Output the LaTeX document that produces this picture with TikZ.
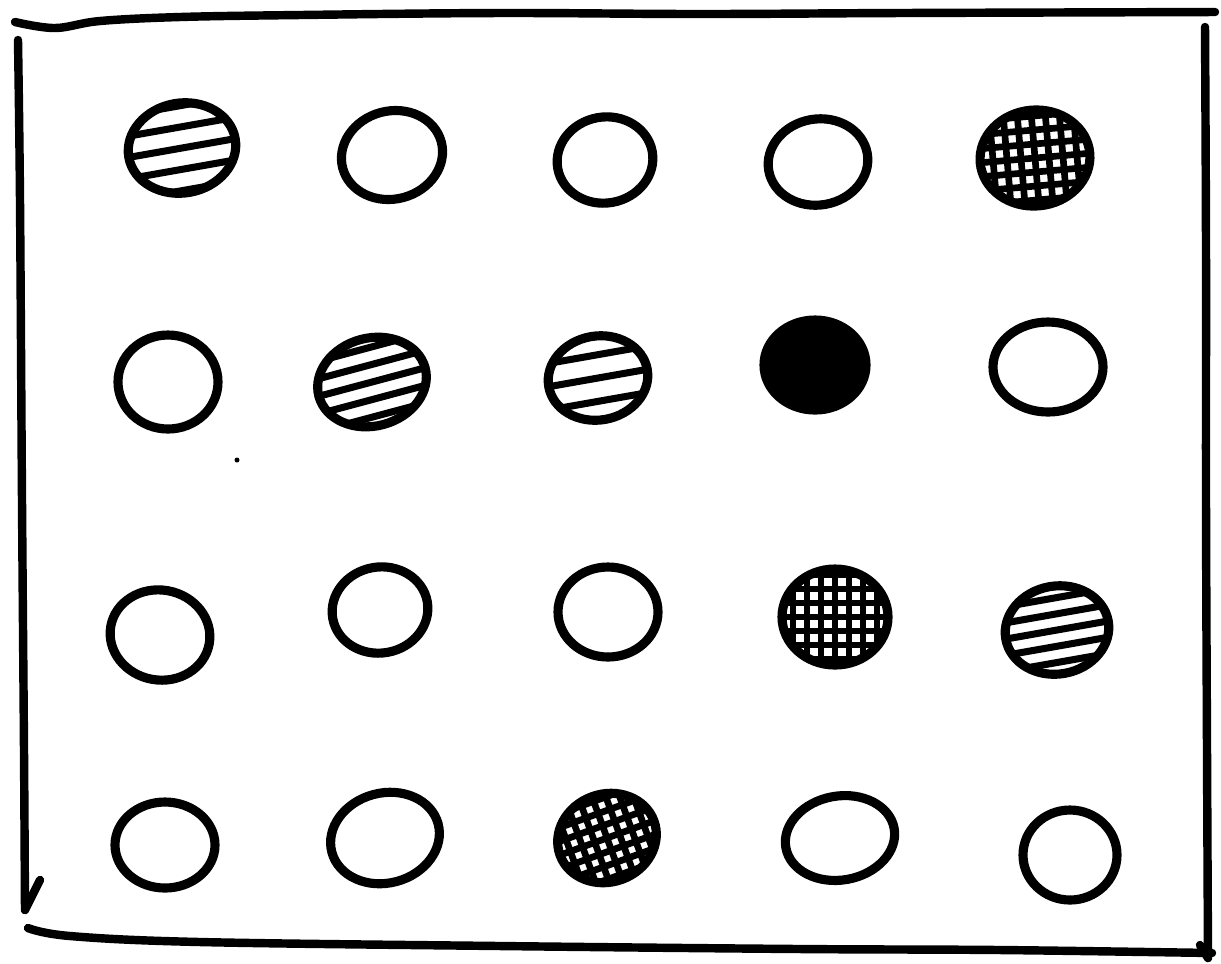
\documentclass[tikz,border=0pt]{standalone}
\usetikzlibrary{shapes.geometric}
\tikzset{
  ring/.style={ellipse, draw=black, line width=2.6pt, inner sep=0pt, minimum width=#1},
  hatch/.style 2 args={path picture={
    \begin{scope}[shift={(path picture bounding box.center)}, rotate=#1]
      \foreach \k in {-6,...,6} \draw[line width=2pt] (-1,\k*#2) -- (1,\k*#2);
    \end{scope}}},
  cross/.style 2 args={path picture={
    \begin{scope}[shift={(path picture bounding box.center)}, rotate=#1]
      \foreach \k in {-8,...,8} {\draw[line width=1.9pt] (-1,\k*#2) -- (1,\k*#2);
                                 \draw[line width=1.9pt] (\k*#2,-1) -- (\k*#2,1);}
    \end{scope}}},
  solid/.style={fill=black},
  edge/.style={line width=2.4pt, line cap=round, line join=round}
}
\begin{document}
\begin{tikzpicture}
\useasboundingbox (0,0) rectangle (12.21,-9.63);
% frame
\draw[edge] plot[smooth, tension=0.6] coordinates {(0.15,-0.22) (0.55,-0.28) (1.0,-0.21) (1.8,-0.17) (3.0,-0.15) (5.0,-0.13) (7.0,-0.14) (9.0,-0.13) (12.15,-0.12)};
\draw[edge] plot[smooth, tension=0.6] coordinates {(0.18,-0.40) (0.20,-2.0) (0.22,-5.0) (0.24,-7.5) (0.25,-9.10)};
\draw[edge] (0.25,-9.10) -- (0.40,-8.80);
\draw[edge] plot[smooth, tension=0.6] coordinates {(0.28,-9.28) (0.70,-9.36) (2.0,-9.42) (5.0,-9.46) (8.0,-9.49) (10.0,-9.50) (12.12,-9.53)};
\draw[edge] plot[smooth, tension=0.6] coordinates {(12.05,-0.27) (12.06,-2.5) (12.06,-5.0) (12.07,-7.5) (12.08,-9.58)};
\draw[edge] (12.08,-9.58) -- (12.00,-9.45);
% row 1
\node[ring=1.08cm, minimum height=0.9cm, rotate=10, hatch={24}{0.21}] (c11) at (1.82,-1.48) {};
\node[ring=1.02cm, minimum height=0.88cm, rotate=15] (c12) at (3.92,-1.55) {};
\node[ring=0.96cm, minimum height=0.86cm, rotate=10] (c13) at (6.05,-1.60) {};
\node[ring=1.0cm, minimum height=0.86cm, rotate=10] (c14) at (8.18,-1.62) {};
\node[ring=1.1cm, minimum height=0.96cm, rotate=5, cross={10}{0.14}] (c15) at (10.35,-1.58) {};
% row 2
\node[ring=1.0cm, minimum height=0.94cm, rotate=0] (c21) at (1.68,-3.82) {};
\node[ring=1.1cm, minimum height=0.88cm, rotate=15, hatch={20}{0.17}] (c22) at (3.72,-3.82) {};
\node[ring=1.0cm, minimum height=0.84cm, rotate=10, hatch={22}{0.23}] (c23) at (5.98,-3.78) {};
\node[ring=1.02cm, minimum height=0.9cm, rotate=0, solid] (c24) at (8.15,-3.65) {};
\node[ring=1.1cm, minimum height=0.9cm, rotate=0] (c25) at (10.48,-3.67) {};
\fill (2.37,-4.60) circle (0.025);
% row 3
\node[ring=1.0cm, minimum height=0.9cm, rotate=-10] (c31) at (1.60,-6.35) {};
\node[ring=0.96cm, minimum height=0.86cm, rotate=10] (c32) at (3.80,-6.10) {};
\node[ring=1.0cm, minimum height=0.9cm, rotate=0] (c33) at (6.08,-6.12) {};
\node[ring=1.06cm, minimum height=0.96cm, rotate=0, cross={10}{0.14}] (c34) at (8.35,-6.17) {};
\node[ring=1.04cm, minimum height=0.88cm, rotate=10, hatch={15}{0.16}] (c35) at (10.57,-6.30) {};
% row 4
\node[ring=1.0cm, minimum height=0.86cm, rotate=0] (c41) at (1.65,-8.45) {};
\node[ring=1.1cm, minimum height=0.9cm, rotate=15] (c42) at (3.85,-8.38) {};
\node[ring=1.0cm, minimum height=0.88cm, rotate=20, cross={15}{0.13}] (c43) at (6.07,-8.38) {};
\node[ring=1.1cm, minimum height=0.84cm, rotate=10] (c44) at (8.40,-8.38) {};
\node[ring=0.94cm, minimum height=0.9cm, rotate=0] (c45) at (10.70,-8.55) {};
\end{tikzpicture}
\end{document}
